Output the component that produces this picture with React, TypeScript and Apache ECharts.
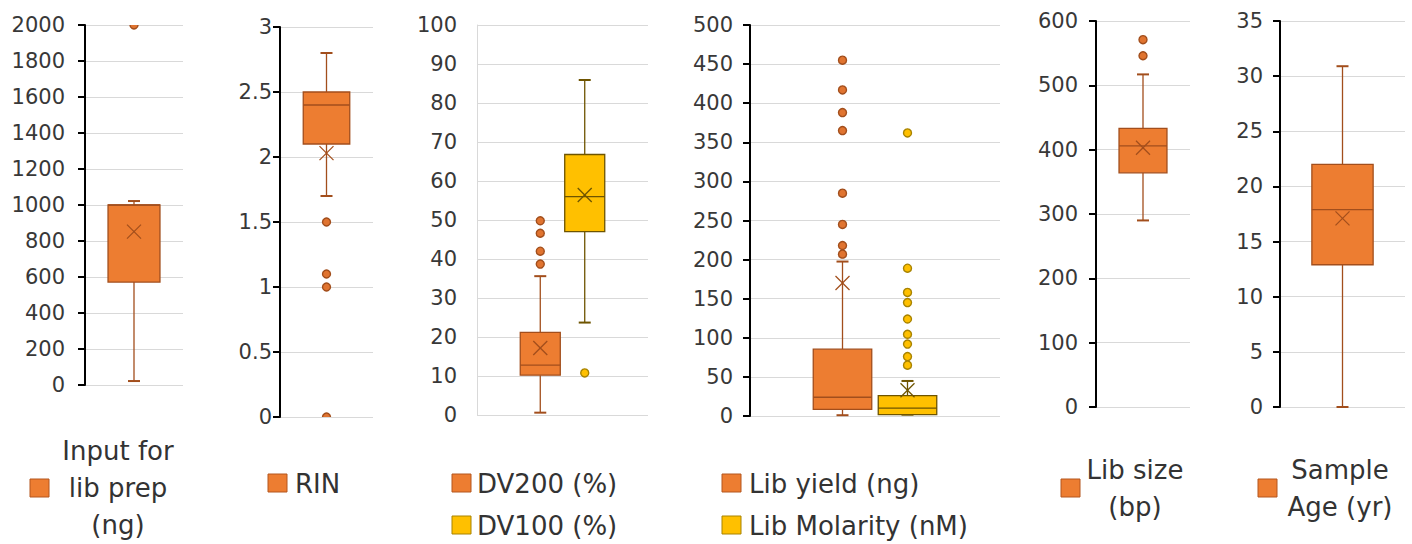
import React, { useEffect, useRef } from "react";
import * as echarts from "echarts";

// ---- axis scales per panel ----
const yMaxes = [2000, 3, 100, 500, 600, 35];
const yIntervals = [200, 0.5, 10, 50, 100, 5];

// ---- box statistics: [min, Q1, median, Q3, max] ----
const inputBox = [22, 572, 1000, 1000, 1022];
const inputMean = 852;
const inputOutliers = [2000];

const rinBox = [1.7, 2.1, 2.4, 2.5, 2.8];
const rinMean = 2.03;
const rinOutliers = [1.5, 1.1, 1.0, 0];

const dv200Box = [0.6, 10.2, 12.8, 21.2, 35.6];
const dv200Mean = 17.2;
const dv200Outliers = [49.8, 46.6, 42, 38.7];

const dv100Box = [23.7, 47, 56, 66.8, 85.9];
const dv100Mean = 56.4;
const dv100Outliers = [10.8];

const yieldBox = [1, 8.5, 24, 85.5, 197.5];
const yieldMean = 170;
const yieldOutliers = [455, 417, 388, 365, 285, 245, 218, 207];

const molarBox = [1.7, 1.7, 10, 26, 44.8];
const molarMean = 33;
const molarOutliers = [362, 189, 158, 145, 124, 104.5, 92, 76, 65];

const sizeBox = [290, 364, 406, 433, 517];
const sizeMean = 403;
const sizeOutliers = [571, 546];

const ageBox = [0, 12.9, 17.9, 22, 30.9];
const ageMean = 17.1;
const ageOutliers: number[] = [];

// ---- legend labels ----
const seriesNames = [
  "Input for lib prep (ng)",
  "RIN",
  "DV200 (%)",
  "DV100 (%)",
  "Lib yield (ng)",
  "Lib Molarity (nM)",
  "Lib size (bp)",
  "Sample Age (yr)",
];
const legendLines = [
  "Input for\nlib prep\n(ng)",
  "RIN",
  "DV200 (%)",
  "DV100 (%)",
  "Lib yield (ng)",
  "Lib Molarity (nM)",
  "Lib size\n(bp)",
  "Sample\nAge (yr)",
];

const ORANGE = { fill: "#ED7D31", stroke: "#A24E1C", dot: "#E07430" };
const YELLOW = { fill: "#FFC000", stroke: "#6E5400", dot: "#FFC000", dotStroke: "#A88300" };

const FONT = "DejaVu Sans";

const grids = [
  { left: 85, top: 25, width: 98, height: 360 },
  { left: 280, top: 27, width: 93, height: 390 },
  { left: 477, top: 25, width: 171, height: 390 },
  { left: 750, top: 25, width: 250, height: 391 },
  { left: 1096, top: 21, width: 94, height: 386 },
  { left: 1280, top: 21, width: 125, height: 386 },
];
const labelMargins = [20, 8, 20, 17, 18, 17];

type SeriesDef = {
  grid: number;
  box: number[];
  mean: number;
  outliers: number[];
  col: any;
  offset: number;
  width: number;
};

const defs: SeriesDef[] = [
  { grid: 0, box: inputBox, mean: inputMean, outliers: inputOutliers, col: ORANGE, offset: 0, width: 0.53 },
  { grid: 1, box: rinBox, mean: rinMean, outliers: rinOutliers, col: ORANGE, offset: 0, width: 0.5 },
  { grid: 2, box: dv200Box, mean: dv200Mean, outliers: dv200Outliers, col: ORANGE, offset: -0.13, width: 0.234 },
  { grid: 2, box: dv100Box, mean: dv100Mean, outliers: dv100Outliers, col: YELLOW, offset: 0.13, width: 0.234 },
  { grid: 3, box: yieldBox, mean: yieldMean, outliers: yieldOutliers, col: ORANGE, offset: -0.13, width: 0.234 },
  { grid: 3, box: molarBox, mean: molarMean, outliers: molarOutliers, col: YELLOW, offset: 0.13, width: 0.234 },
  { grid: 4, box: sizeBox, mean: sizeMean, outliers: sizeOutliers, col: ORANGE, offset: 0, width: 0.51 },
  { grid: 5, box: ageBox, mean: ageMean, outliers: ageOutliers, col: ORANGE, offset: 0, width: 0.49 },
];

// legend swatch/text placement
const legendPos = [
  { sx: 30, sy: 479, tx: 118, ty: 488, align: "center", lh: 37 },
  { sx: 268, sy: 474, tx: 295, ty: 484, align: "left", lh: 30 },
  { sx: 452, sy: 474, tx: 477, ty: 484, align: "left", lh: 30 },
  { sx: 452, sy: 516, tx: 477, ty: 526, align: "left", lh: 30 },
  { sx: 722, sy: 474, tx: 749, ty: 484, align: "left", lh: 30 },
  { sx: 722, sy: 516, tx: 749, ty: 526, align: "left", lh: 30 },
  { sx: 1061, sy: 479, tx: 1135, ty: 488, align: "center", lh: 37 },
  { sx: 1258, sy: 479, tx: 1340, ty: 488, align: "center", lh: 37 },
];

function buildOption() {
  const xAxis = grids.map((_, i) => ({
    type: "category",
    gridIndex: i,
    data: [seriesNames[i]],
    axisLine: { show: false },
    axisTick: { show: false },
    axisLabel: { show: false },
    splitLine: { show: false },
  }));
  const yAxis = grids.map((_, i) => ({
    type: "value",
    gridIndex: i,
    min: 0,
    max: yMaxes[i],
    interval: yIntervals[i],
    axisLine: {
      show: true,
      lineStyle: { color: i === 2 ? "#D9D9D9" : "#000000", width: i === 2 ? 1 : 2 },
    },
    axisTick: {
      show: i !== 2,
      length: 7,
      lineStyle: { color: "#000000", width: 2 },
    },
    axisLabel: {
      fontSize: 21,
      fontFamily: FONT,
      color: "#383838",
      margin: labelMargins[i],
      formatter: (v: number) => String(v),
    },
    splitLine: { show: true, lineStyle: { color: "#D9D9D9", width: 1 } },
  }));

  const series: any[] = [];
  defs.forEach((d, si) => {
    const col = d.col;
    series.push({
      type: "custom",
      name: seriesNames[si],
      xAxisIndex: d.grid,
      yAxisIndex: d.grid,
      data: [[0, ...d.box, d.mean]],
      encode: { x: 0, y: [1, 2, 3, 4, 5, 6] },
      renderItem: (params: any, api: any) => {
        const band = api.size([1, 0])[0];
        const c = api.value(0);
        const cx = api.coord([c, 0])[0] + d.offset * band;
        const w = d.width * band;
        const y = (k: number) => api.coord([c, api.value(k)])[1];
        const yMin = y(1), yQ1 = y(2), yMed = y(3), yQ3 = y(4), yMax = y(5), yMean = y(6);
        const cap = 6;
        const xs = 7;
        const ls = { stroke: col.stroke, lineWidth: 1.3 };
        return {
          type: "group",
          children: [
            { type: "line", shape: { x1: cx, y1: yMax, x2: cx, y2: yQ3 }, style: ls },
            { type: "line", shape: { x1: cx, y1: yQ1, x2: cx, y2: yMin }, style: ls },
            { type: "line", shape: { x1: cx - cap, y1: yMax, x2: cx + cap, y2: yMax }, style: { ...ls, lineWidth: 2 } },
            { type: "line", shape: { x1: cx - cap, y1: yMin, x2: cx + cap, y2: yMin }, style: { ...ls, lineWidth: 2 } },
            {
              type: "rect",
              shape: { x: cx - w / 2, y: yQ3, width: w, height: yQ1 - yQ3 },
              style: { fill: col.fill, stroke: col.stroke, lineWidth: 1.3 },
            },
            { type: "line", shape: { x1: cx - w / 2, y1: yMed, x2: cx + w / 2, y2: yMed }, style: ls },
            { type: "line", shape: { x1: cx - xs, y1: yMean - xs, x2: cx + xs, y2: yMean + xs }, style: ls },
            { type: "line", shape: { x1: cx - xs, y1: yMean + xs, x2: cx + xs, y2: yMean - xs }, style: ls },
          ],
        };
      },
      z: 2,
    });
    if (d.outliers.length) {
      series.push({
        type: "custom",
        name: seriesNames[si] + " outliers",
        xAxisIndex: d.grid,
        yAxisIndex: d.grid,
        clip: true,
        data: d.outliers.map((v) => [0, v]),
        encode: { x: 0, y: 1 },
        renderItem: (params: any, api: any) => {
          const band = api.size([1, 0])[0];
          const p = api.coord([api.value(0), api.value(1)]);
          return {
            type: "circle",
            shape: { cx: p[0] + d.offset * band, cy: p[1], r: 4 },
            style: { fill: col.dot, stroke: col.dotStroke || col.stroke, lineWidth: 1.4 },
          };
        },
        z: 3,
      });
    }
  });

  const graphic: any[] = [];
  legendPos.forEach((p, i) => {
    const col = defs[i].col;
    graphic.push({
      type: "rect",
      shape: { x: p.sx, y: p.sy, width: 19, height: 18 },
      style: { fill: col.fill, stroke: col === YELLOW ? "#A88300" : "#B4571F", lineWidth: 1 },
    });
    graphic.push({
      type: "text",
      x: p.tx,
      y: p.ty,
      style: {
        text: legendLines[i],
        fontSize: 26,
        fontFamily: FONT,
        fill: "#333333",
        align: p.align,
        verticalAlign: "middle",
        lineHeight: p.lh,
      },
    });
  });

  return {
    animation: false,
    backgroundColor: "#ffffff",
    grid: grids.map((g) => ({ ...g, containLabel: false })),
    xAxis,
    yAxis,
    series,
    graphic,
  };
}

export default function App() {
  const ref = useRef<HTMLDivElement>(null);
  useEffect(() => {
    if (!ref.current) return;
    const chart = echarts.init(ref.current, undefined, { renderer: "svg" });
    chart.setOption(buildOption() as any);
    return () => chart.dispose();
  }, []);
  return (
    <div
      ref={ref}
      style={{ position: "fixed", left: 0, top: 0, width: 1412, height: 544, background: "#fff" }}
    />
  );
}
